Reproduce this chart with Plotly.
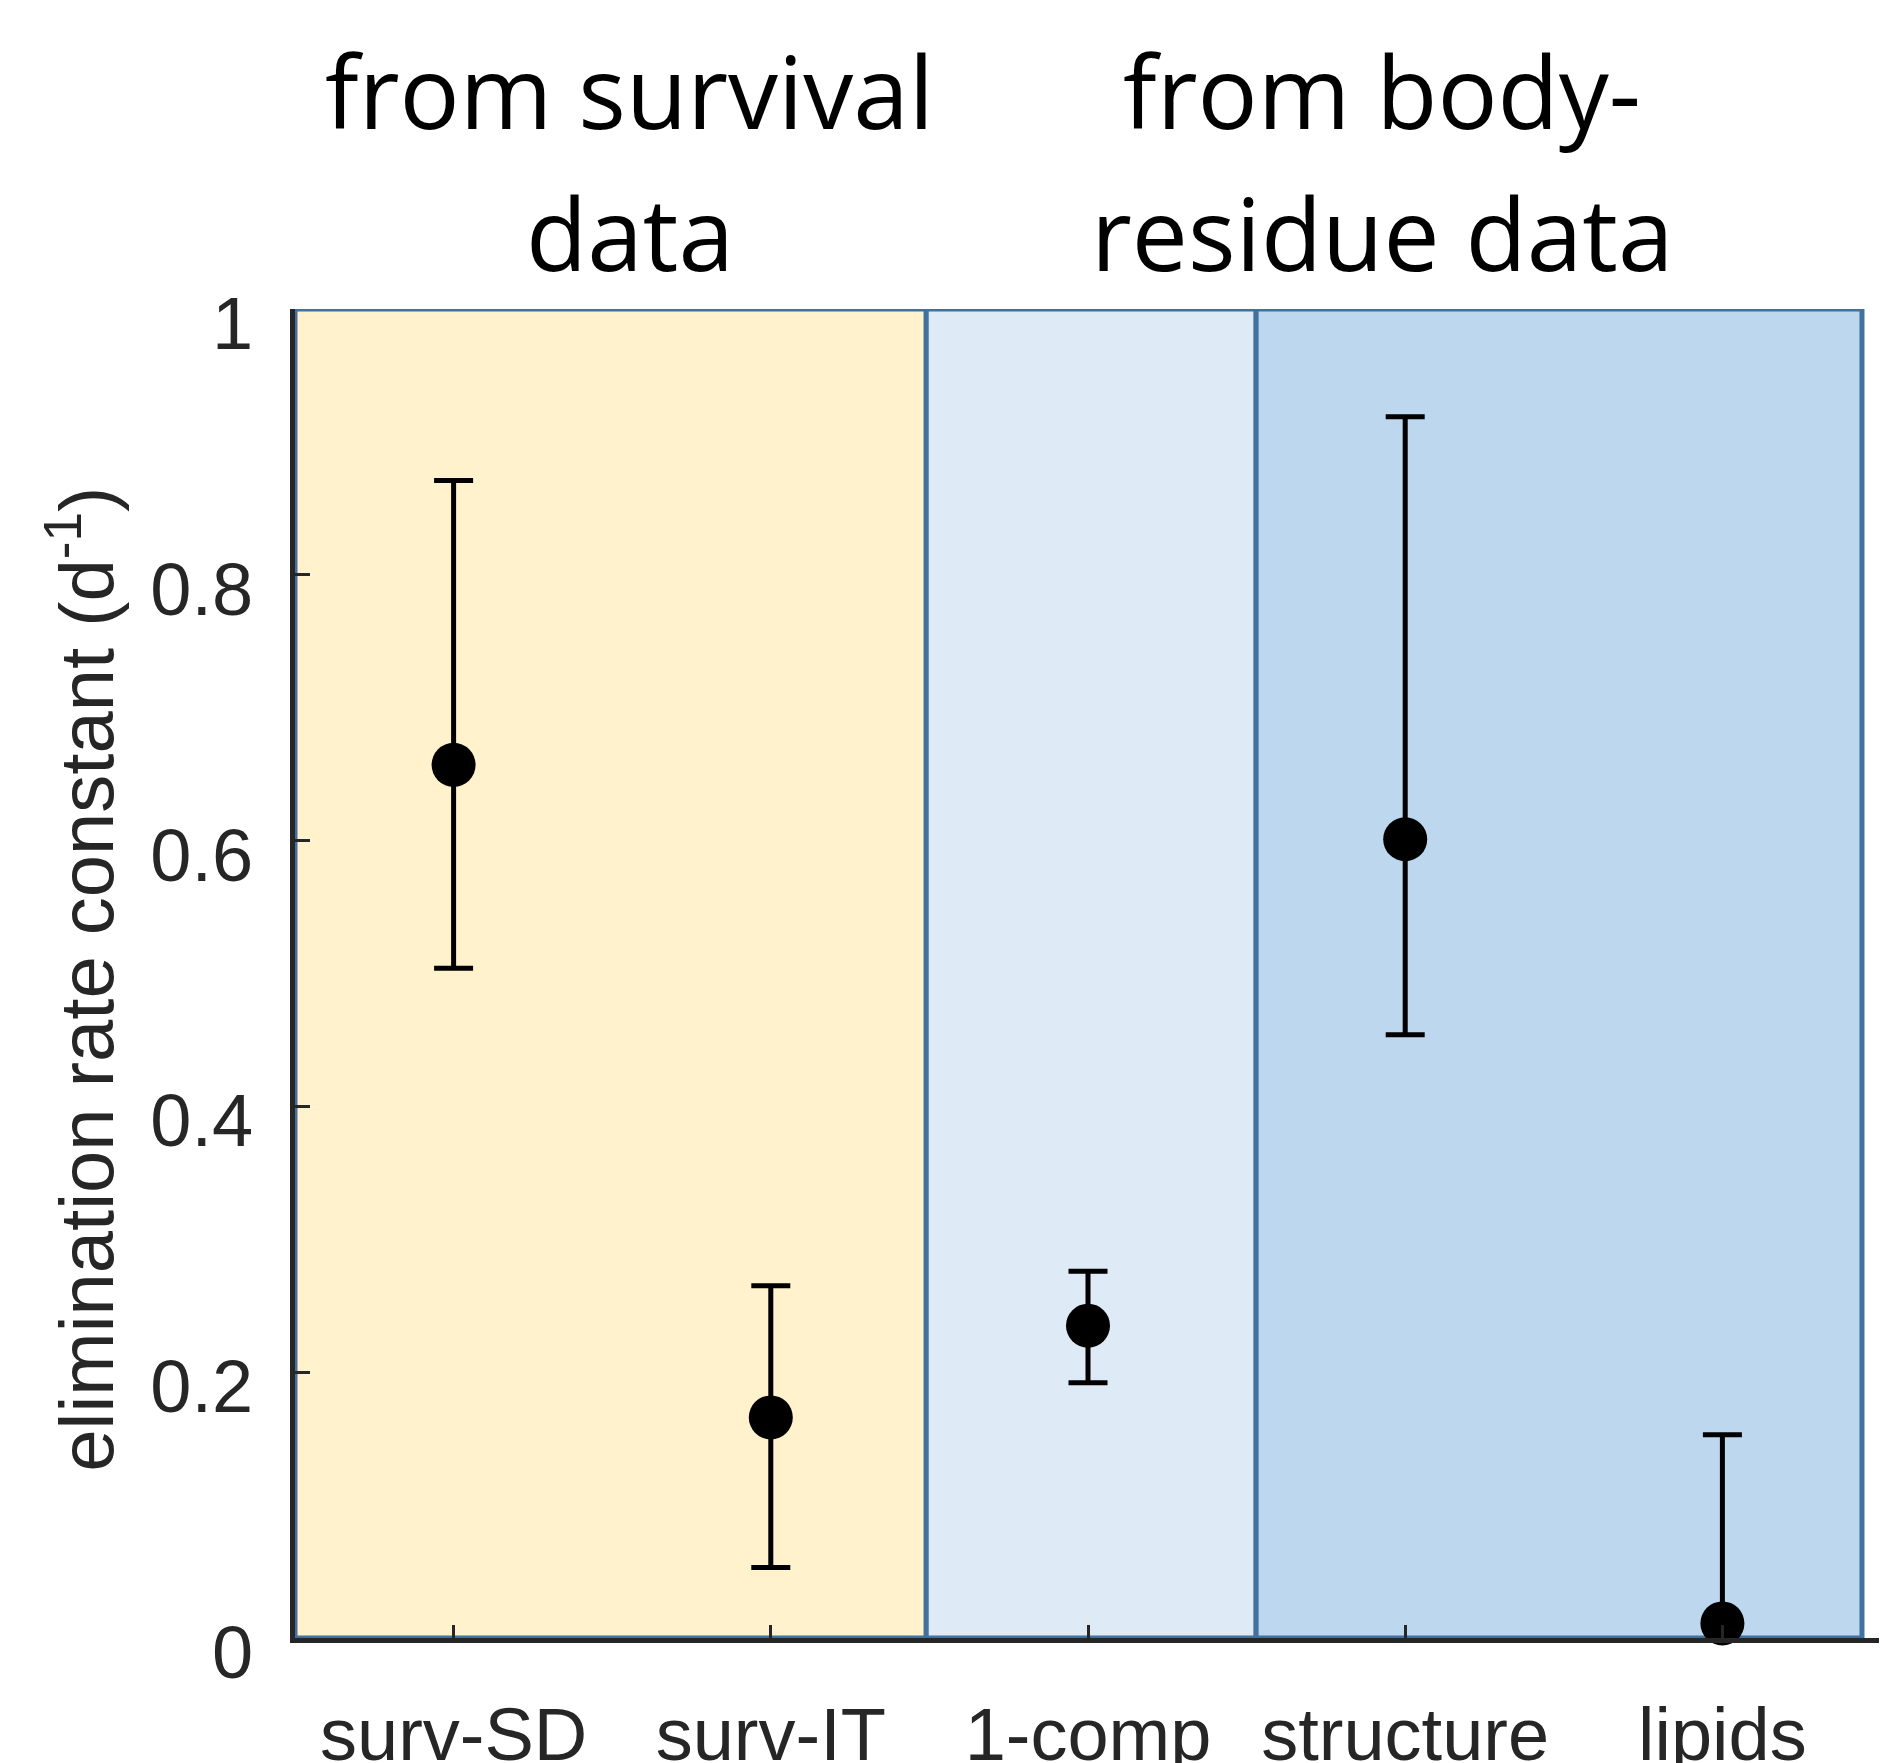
import plotly.graph_objects as go

categories = ["surv-SD", "surv-IT", "1-comp", "structure", "lipids"]
values = [0.657, 0.166, 0.235, 0.601, 0.011]
upper = [0.871, 0.265, 0.276, 0.919, 0.153]
lower = [0.504, 0.053, 0.192, 0.454, 0.011]
positions = [1, 2, 3, 4, 5]

yticks = [0, 0.2, 0.4, 0.6, 0.8, 1]
ytick_labels = ["0", "0.2", "0.4", "0.6", "0.8", "1"]

group_titles = [("from survival", "data"), ("from body-", "residue data")]
regions = [(0.5, 2.49, "#FFF2CC"), (2.49, 3.53, "#DEEAF6"), (3.53, 5.44, "#BDD7EE")]

# page body has an 8px default margin; compensate
W, H = 1879, 1755
L, R, T, B = 287, 6, 301, 125

fig = go.Figure()

err_plus = [u - v for u, v in zip(upper, values)]
err_minus = [v - l for v, l in zip(values, lower)]

fig.add_trace(go.Scatter(
    x=positions, y=values, mode="markers",
    marker=dict(size=44, color="black", line=dict(width=0)),
    error_y=dict(type="data", symmetric=False, array=err_plus, arrayminus=err_minus,
                 color="black", thickness=5, width=19.5),
    showlegend=False, cliponaxis=False,
))

for x0, x1, col in regions:
    fig.add_shape(type="rect", xref="x", yref="y", x0=x0, x1=x1, y0=0, y1=1,
                  fillcolor=col, line=dict(color="#41719C", width=5), layer="below")

font_ax = "Liberation Sans, Arial, sans-serif"
fig.update_layout(
    width=W, height=H,
    margin=dict(l=L, r=R, t=T, b=B, autoexpand=False),
    paper_bgcolor="white", plot_bgcolor="white",
    xaxis=dict(range=[0.5, 5.5], tickvals=positions, ticktext=categories, automargin=False,
               showgrid=False, zeroline=False, showline=True, linecolor="#262626", linewidth=5,
               ticks="inside", ticklen=13, tickwidth=3, tickcolor="#262626",
               tickfont=dict(family=font_ax, size=74, color="#262626"),
               ticklabelstandoff=28),
    yaxis=dict(range=[0, 1], tickvals=yticks, ticktext=ytick_labels, automargin=False,
               showgrid=False, zeroline=False, showline=True, linecolor="#262626", linewidth=5,
               ticks="inside", ticklen=15, tickwidth=3, tickcolor="#262626",
               tickfont=dict(family=font_ax, size=74, color="#262626"),
               ticklabelstandoff=22, ticklabelshift=14),
)

fig.add_annotation(xref="paper", yref="paper", x=-0.135, y=0.496, xanchor="center", yanchor="middle",
                   text="elimination rate constant (d<sup>-1</sup>)", textangle=-90, showarrow=False,
                   font=dict(family=font_ax, size=76, color="#262626"))

title_font = dict(family="Open Sans, sans-serif", size=100, color="black")
xcent = [0.2112, 0.6854]
for (l1, l2), xc in zip(group_titles, xcent):
    fig.add_annotation(xref="paper", yref="paper", x=xc, y=1.1645, xanchor="center", yanchor="middle",
                       text=l1, showarrow=False, font=title_font)
    fig.add_annotation(xref="paper", yref="paper", x=xc, y=1.058, xanchor="center", yanchor="middle",
                       text=l2, showarrow=False, font=title_font)

fig.write_html("out.html")
